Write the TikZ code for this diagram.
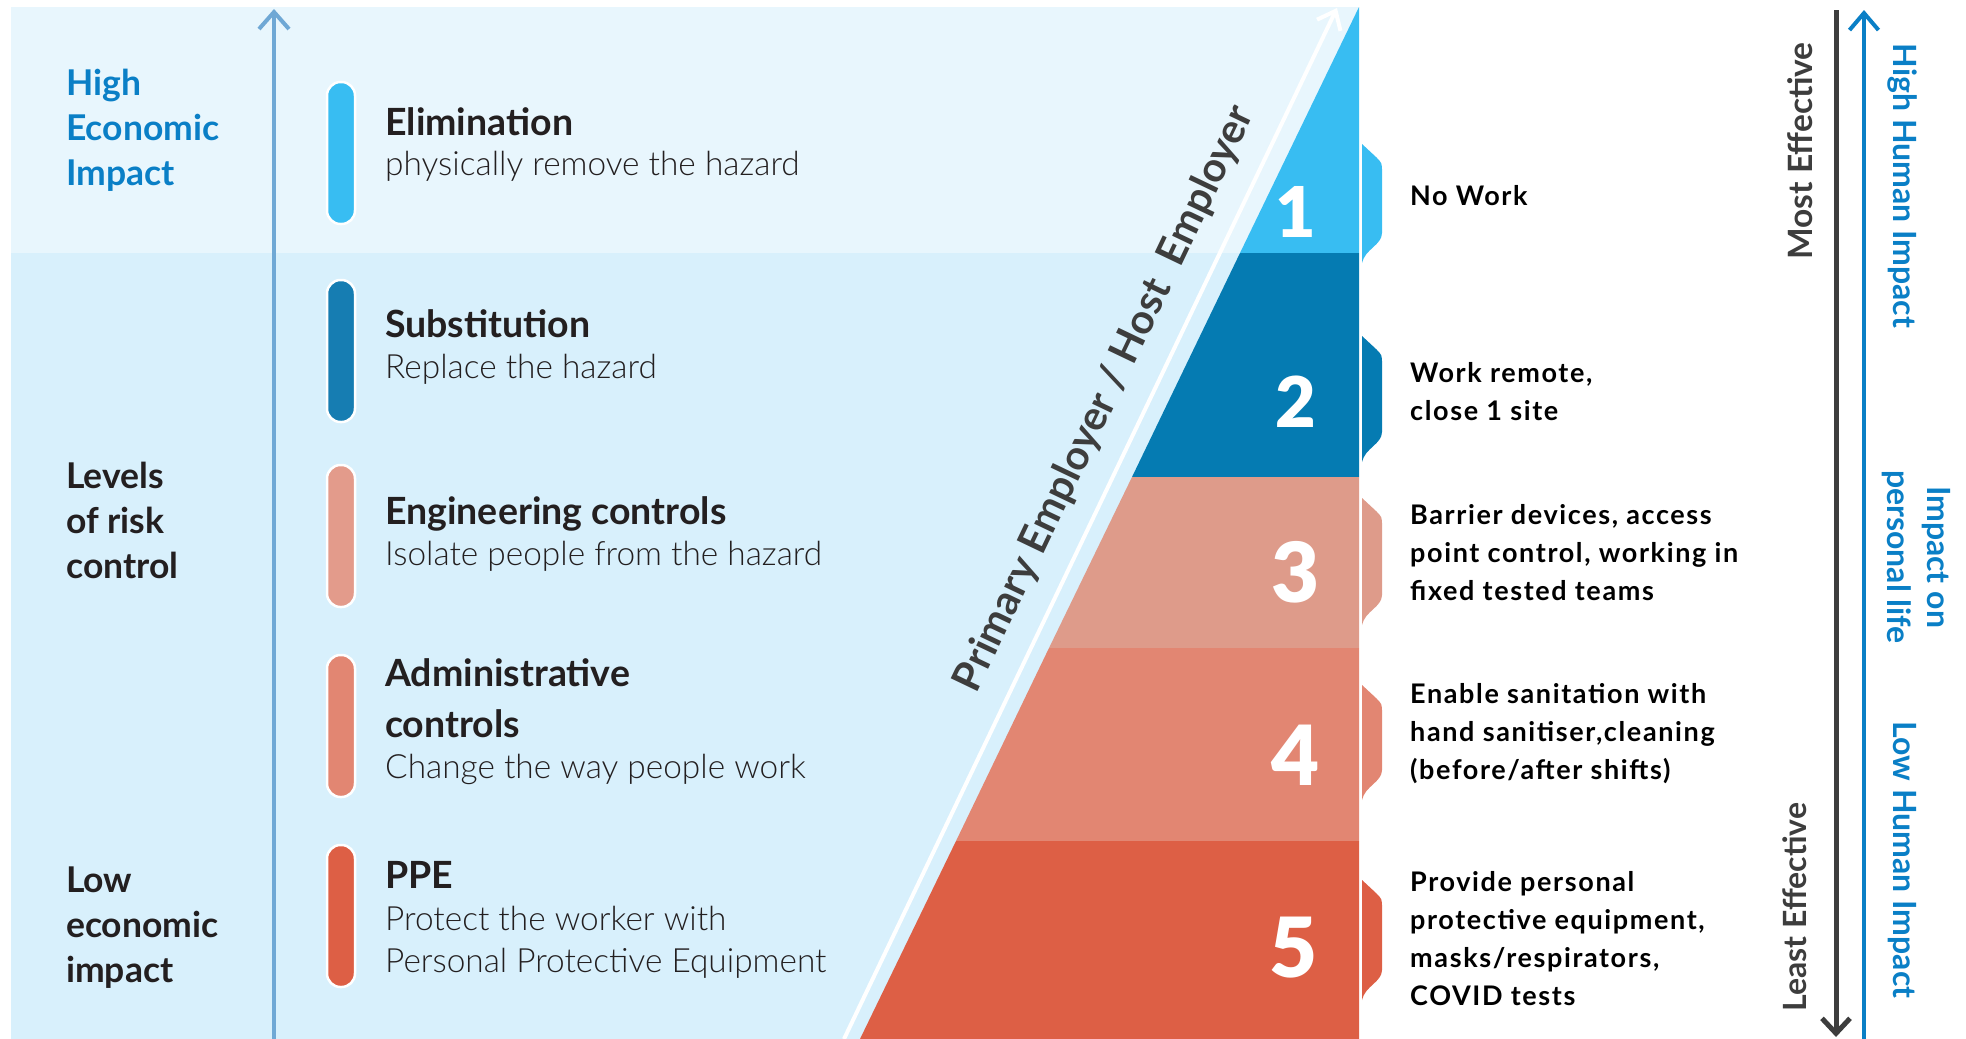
\documentclass[tikz,border=0pt]{standalone}
\usepackage{fontspec}
\setmainfont{Lato}
\newfontfamily\lightfont{Lato Light}
\newfontfamily\heavyfont{Lato Black}
\newfontfamily\widefont[LetterSpace=6]{Lato}
\usetikzlibrary{positioning,arrows.meta}

\definecolor{bandtop}{HTML}{E8F6FD}
\definecolor{bandlow}{HTML}{D8F0FC}
\definecolor{tierone}{HTML}{38BDF2}
\definecolor{tiertwo}{HTML}{057BB2}
\definecolor{tierthree}{HTML}{DE9B8A}
\definecolor{tierfour}{HTML}{E28672}
\definecolor{tierfive}{HTML}{DD5F45}
\definecolor{bartwo}{HTML}{167DB2}
\definecolor{barthree}{HTML}{E39B8B}
\definecolor{axisblue}{HTML}{6FA8D5}
\definecolor{deepblue}{HTML}{0A7FC6}
\definecolor{inkgray}{HTML}{3D3D3D}
\definecolor{ink}{HTML}{231F20}

\tikzset{
  head/.style={anchor=base west, inner sep=0pt, text=ink, align=left,
    font=\bfseries\fontsize{37.5}{51}\selectfont},
  desc/.style={anchor=base west, inner sep=0pt, text=ink, align=left,
    font=\lightfont\fontsize{33.4}{42}\selectfont},
  sidelabel/.style={anchor=base west, inner sep=0pt, align=left,
    font=\bfseries\fontsize{35.5}{45}\selectfont},
  note/.style={anchor=base west, inner sep=0pt, align=left, text=black,
    font=\widefont\bfseries\fontsize{27}{38}\selectfont},
  bar/.style={draw=white, line width=2.5pt, rounded corners=13.5pt},
  tiernum/.style={anchor=base east, inner sep=0pt, text=white},
  axislabel/.style={inner sep=0pt, align=center,
    font=\bfseries\fontsize{32}{40}\selectfont}
}

\begin{document}
\begin{tikzpicture}[x=1pt,y=-1pt]
  \useasboundingbox (0,0) rectangle (1966,1039);

  % bands behind the list
  \fill[bandlow] (11,253) rectangle (1359,1039);
  \fill[bandtop] (11,7) rectangle (1359,253);

  % the five tiers of the triangle
  \fill[tierone] (1359,7) -- (1240,253) -- (1359,253) -- cycle;
  \fill[tiertwo] (1240,253) -- (1132,477) -- (1359,477) -- (1359,253) -- cycle;
  \fill[tierthree] (1132,477) -- (1049,648) -- (1359,648) -- (1359,477) -- cycle;
  \fill[tierfour] (1049,648) -- (956,841) -- (1359,841) -- (1359,648) -- cycle;
  \fill[tierfive] (956,841) -- (860,1039) -- (1359,1039) -- (1359,841) -- cycle;

  % tabs beside the tiers
  \foreach \t/\b/\c in {144/263/tierone, 336/462/tiertwo, 498/625/tierthree,
                        685/800/tierfour, 880/1000/tierfive}
    \fill[\c] (1362,\t) -- (1376,\t+13) .. controls (1382,\t+19) .. (1382,\t+28)
      -- (1382,\b-30) .. controls (1382,\b-18) and (1365,\b-14) .. (1362,\b) -- cycle;

  % arrows
  \coordinate (axisbot) at (274,1039);
  \coordinate (axistop) at (274,9);
  \draw[axisblue, line width=4pt, -{Straight Barb[length=17pt,width=30pt]}] (axisbot) -- (axistop);
  \coordinate (empbot) at (844,1039);
  \coordinate (emptop) at (1337,8);
  \draw[white, line width=4pt, -{Straight Barb[length=16pt,width=26pt]}] (empbot) -- (emptop);
  \coordinate (efftop) at (1836,10);
  \coordinate (effbot) at (1836,1037);
  \draw[inkgray, line width=5pt, -{Straight Barb[length=15pt,width=28pt]}] (efftop) -- (effbot);
  \coordinate (humbot) at (1864,1039);
  \coordinate (humtop) at (1864,10);
  \draw[deepblue, line width=4pt, -{Straight Barb[length=17pt,width=29pt]}] (humbot) -- (humtop);

  % bars of the list
  \foreach \top/\bot/\col in {82/224/tierone, 280/422/bartwo, 465/607/barthree,
                              655/797/tierfour, 845/987/tierfive}
    \draw[bar, fill=\col] (327,\top) rectangle (355,\bot);

  % left labels (base = last line)
  \node[sidelabel, text=deepblue] (econhigh) at (66,185) {High\\Economic\\Impact};
  \node[sidelabel, text=ink] (levels) at (66,578) {Levels\\of risk\\control};
  \node[sidelabel, text=ink] (econlow) at (66,982) {Low\\economic\\impact};

  % list of controls
  \node[head] (elim) at (385,135) {Elimination};
  \node[desc] (elimd) at ([yshift=-40pt]elim.base west) {physically remove the hazard};
  \node[head] (subst) at (385,337) {Substitution};
  \node[desc] (substd) at ([yshift=-41pt]subst.base west) {Replace the hazard};
  \node[head] (eng) at (385,524) {Engineering controls};
  \node[desc] (engd) at ([yshift=-41pt]eng.base west) {Isolate people from the hazard};
  \node[head] (admin) at (385,737) {Administrative\\controls};
  \node[desc] (admind) at ([yshift=-41pt]admin.base west) {Change the way people work};
  \node[head] (ppe) at (385,888) {PPE};
  \node[desc] (pped) at ([yshift=-84pt]ppe.base west) {Protect the worker with\\Personal Protective Equipment};

  % along the triangle
  \node[rotate=64.45, inner sep=0pt, text=inkgray, font=\bfseries\fontsize{41}{41}\selectfont]
    (employer) at (1105,399) {Primary Employer / Host\hspace{10pt} Employer};

  % tier numbers
  \node[tiernum, font=\heavyfont\fontsize{70}{70}\selectfont] (numone) at (1316,237) {1};
  \node[tiernum, font=\heavyfont\fontsize{70}{70}\selectfont] (numtwo) at (1316,427) {2};
  \node[tiernum, font=\heavyfont\fontsize{83}{83}\selectfont] (numthree) at (1320,602) {3};
  \node[tiernum, font=\heavyfont\fontsize{83}{83}\selectfont] (numfour) at (1320,785) {4};
  \node[tiernum, font=\heavyfont\fontsize{83}{83}\selectfont] (numfive) at (1318,977) {5};

  % measures per tier (base = last line)
  \node[note] (nowork) at (1410,205) {No Work};
  \node[note] (remote) at (1410,420) {Work remote,\\close 1 site};
  \node[note] (barrier) at (1410,600) {Barrier devices, access\\point control, working in\\fixed tested teams};
  \node[note] (sanit) at (1410,779) {Enable sanitation with\\hand sanitiser,cleaning\\(before/after shifts)};
  \node[note] (protect) at (1410,1005) {Provide personal\\protective equipment,\\masks/respirators,\\COVID tests};

  % axis labels on the right
  \node[axislabel, rotate=90, text=inkgray, font=\bfseries\fontsize{33.5}{40}\selectfont] (most) at (1800,151) {Most Effective};
  \node[axislabel, rotate=90, text=inkgray] (least) at (1795,907) {Least Effective};
  \node[axislabel, rotate=-90, text=deepblue] (highhum) at (1902,186) {High Human Impact};
  \node[axislabel, rotate=-90, text=deepblue] (personal) at (1916,557) {Impact on\\personal life};
  \node[axislabel, rotate=-90, text=deepblue] (lowhum) at (1902,860) {Low Human Impact};
\end{tikzpicture}
\end{document}
